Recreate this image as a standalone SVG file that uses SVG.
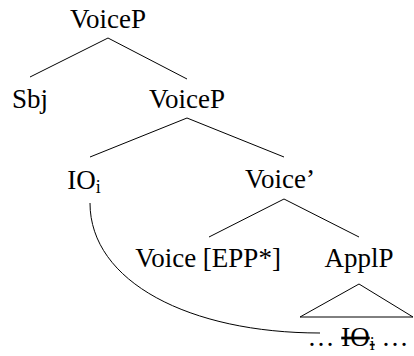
<svg xmlns="http://www.w3.org/2000/svg" width="414" height="356" viewBox="0 0 414 356">
<style>
text{font-family:'Liberation Serif','Times New Roman',serif;font-size:27px;fill:#000;text-anchor:middle}
.sub{font-size:18px}
line,path,polygon{stroke:#000;stroke-width:1;fill:none}
</style>
<rect width="414" height="356" fill="#fff"/>
<g id="connectors">
<line x1="108" y1="38" x2="30" y2="77"/>
<line x1="108" y1="38" x2="187" y2="79"/>
<line x1="187" y1="118" x2="90" y2="157"/>
<line x1="187" y1="118" x2="284" y2="157"/>
<line x1="284" y1="199" x2="209" y2="237"/>
<line x1="284" y1="199" x2="359" y2="237"/>
<polygon points="359,284 300,317 413,317"/>
<path d="M90,203 C90,282 190,333 320,333"/>
</g>
<g id="n-voicep1"><text x="108" y="28">VoiceP</text></g>
<g id="n-sbj"><text x="30" y="108">Sbj</text></g>
<g id="n-voicep2"><text x="187" y="108">VoiceP</text></g>
<g id="n-io"><text x="84" y="189">IO<tspan class="sub" dy="4">i</tspan></text></g>
<g id="n-voicebar"><text x="280" y="188">Voice’</text></g>
<g id="n-voice"><text x="208" y="267">Voice [EPP*]</text></g>
<g id="n-applp"><text x="359" y="267">ApplP</text></g>
<g id="n-trace"><text x="358" y="346">… <tspan text-decoration="line-through">IO<tspan class="sub" dy="4">i</tspan></tspan><tspan dy="-4"> …</tspan></text></g>
</svg>
